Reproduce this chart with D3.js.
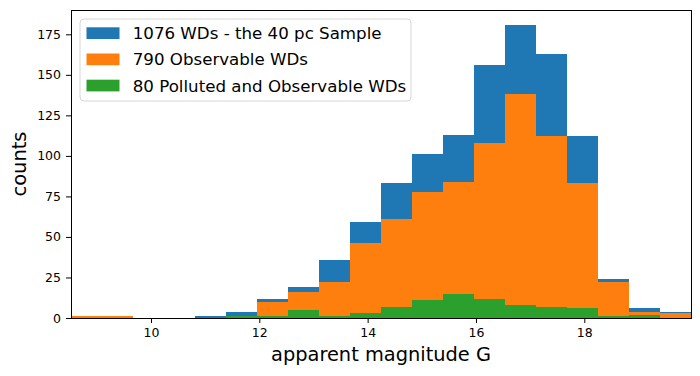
<!DOCTYPE html>
<html lang="en">
<head>
    <meta charset="UTF-8">
    <title>WD histogram</title>
    <style>
        body { margin: 0; background: #fff; }
        text { font-family: "DejaVu Sans", sans-serif; }
    </style>
</head>
<body>
<script src="https://d3js.org/d3.v7.min.js"></script>

<div id="my_data"></div>

<script type="text/javascript">

    // histogram bins: 20 equal bins from the first to the last edge
    var binStart = 8.523,
        binEnd = 19.970,
        nBins = 20;

    // counts per bin
    var allWDs =      [1, 1, 0, 0, 1, 4, 12, 19, 36, 59, 83, 101, 113, 156, 181, 163, 112, 24, 6, 4];
    var observable =  [1, 1, 0, 0, 0, 1, 10, 16, 22, 46, 61, 78, 84, 108, 138, 112, 83, 22, 4, 3];
    var polluted =    [0, 0, 0, 0, 0, 1, 1, 5, 1, 3, 7, 11, 15, 12, 8, 7, 6, 1, 2, 0];

    var series = [
        { name: "1076 WDs - the 40 pc Sample", color: "#1f77b4", values: allWDs },
        { name: "790 Observable WDs", color: "#ff7f0e", values: observable },
        { name: "80 Polluted and Observable WDs", color: "#2ca02c", values: polluted }
    ];

    var xTicks = [10, 12, 14, 16, 18];
    var yTicks = [0, 25, 50, 75, 100, 125, 150, 175];

    var margin = { top: 10, right: 9, bottom: 58, left: 71 },
        width = 700 - margin.left - margin.right,
        height = 376 - margin.top - margin.bottom;

    var svg = d3
        .select("#my_data")
        .append("svg")
        .attr("width", width + margin.left + margin.right)
        .attr("height", height + margin.top + margin.bottom)
        .append("g")
        .attr("transform", "translate(" + margin.left + "," + margin.top + ")");

    var binWidth = (binEnd - binStart) / nBins;

    var x = d3.scaleLinear().domain([binStart, binEnd]).range([0, width]);
    var y = d3.scaleLinear().domain([0, 190]).range([height, 0]);

    // bars, one series drawn over the other
    series.forEach(function(s) {
        svg
            .append("g")
            .selectAll("rect")
            .data(s.values)
            .enter()
            .append("rect")
            .attr("x", function(d, i) { return x(binStart + i * binWidth); })
            .attr("width", function(d, i) {
                return x(binStart + (i + 1) * binWidth) - x(binStart + i * binWidth);
            })
            .attr("y", function(d) { return y(d); })
            .attr("height", function(d) { return height - y(d); })
            .style("fill", s.color)
            .style("shape-rendering", "crispEdges");
    });

    // axes
    var xAxis = svg
        .append("g")
        .attr("transform", "translate(0," + height + ")")
        .call(d3.axisBottom(x).tickValues(xTicks).tickSize(5).tickPadding(5));
    xAxis.select(".domain").remove();

    var yAxis = svg
        .append("g")
        .call(d3.axisLeft(y).tickValues(yTicks).tickSize(5).tickPadding(5));
    yAxis.select(".domain").remove();

    svg.selectAll(".tick text")
        .style("font-family", "DejaVu Sans")
        .style("font-size", "12.5px")
        .style("fill", "#000");
    svg.selectAll(".tick line").style("stroke", "#000");

    // frame
    svg
        .append("rect")
        .attr("x", 0)
        .attr("y", 0)
        .attr("width", width)
        .attr("height", height)
        .style("fill", "none")
        .style("stroke", "#000")
        .style("stroke-width", 1)
        .style("shape-rendering", "crispEdges");

    // axis labels
    svg
        .append("text")
        .attr("x", width / 2)
        .attr("y", height + 43)
        .attr("text-anchor", "middle")
        .style("font-size", "19.4px")
        .text("apparent magnitude G");

    svg
        .append("text")
        .attr("transform", "translate(" + (26 - margin.left) + "," + (height / 2) + ") rotate(-90)")
        .attr("text-anchor", "middle")
        .style("font-size", "19.4px")
        .text("counts");

    // legend
    var legend = svg
        .append("g")
        .attr("transform", "translate(" + (80 - margin.left) + "," + (19 - margin.top) + ")");

    legend
        .append("rect")
        .attr("width", 331)
        .attr("height", 82)
        .attr("rx", 4)
        .attr("ry", 4)
        .style("fill", "#fff")
        .style("fill-opacity", 0.8)
        .style("stroke", "#d6d6d6")
        .style("stroke-width", 1);

    series.forEach(function(s, i) {
        var row = legend
            .append("g")
            .attr("transform", "translate(0," + (14.2 + i * 26.2) + ")");
        row
            .append("rect")
            .attr("x", 6.5)
            .attr("y", -5.9)
            .attr("width", 33)
            .attr("height", 11.7)
            .style("fill", s.color);
        row
            .append("text")
            .attr("x", 52.7)
            .attr("y", 6)
            .style("font-size", "16.67px")
            .text(s.name);
    });

</script>
</body>
</html>
